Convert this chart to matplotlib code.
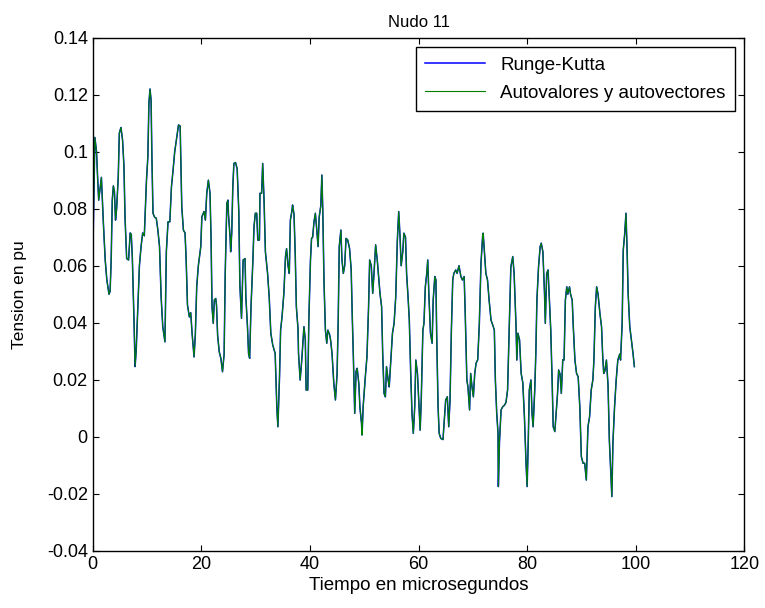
import numpy as np
import matplotlib
matplotlib.use('Agg')
import matplotlib.pyplot as plt

plt.rcParams['font.family'] = ['Liberation Sans', 'DejaVu Sans']

# tiempo (microsegundos) y tension (pu)
t = [0.0, 0.05, 0.4, 0.7, 0.9, 1.1, 1.6, 1.95, 2.3, 2.6, 3.0, 3.2, 3.4, 3.6, 3.8, 4.0,
     4.2, 4.4, 4.7, 4.9, 5.2, 5.5, 5.75, 5.95, 6.25, 6.6, 6.9, 7.1, 7.3, 7.6, 7.8, 8.0,
     8.2, 8.4, 8.6, 8.9, 9.2, 9.5, 9.7, 9.9, 10.15, 10.35, 10.55, 10.75, 10.9, 11.1, 11.4,
     11.7, 12.0, 12.3, 12.6, 12.9, 13.3, 13.56, 13.87, 14.2, 14.5, 14.8, 15.1, 15.4, 15.8,
     16.1, 16.2, 16.4, 16.7, 17.0, 17.2, 17.45, 17.8, 18.05, 18.3, 18.66, 18.9, 19.15,
     19.45, 19.9, 20.1, 20.5, 20.75, 21.0, 21.3, 21.6, 21.8, 21.97, 22.2, 22.4, 22.65,
     22.8, 23.0, 23.3, 23.6, 23.9, 24.2, 24.4, 24.7, 24.9, 25.0, 25.3, 25.4, 25.6, 25.8,
     26.0, 26.3, 26.6, 26.9, 27.1, 27.4, 27.7, 28.05, 28.2, 28.5, 28.7, 28.9, 29.15, 29.5,
     29.7, 29.95, 30.2, 30.4, 30.7, 30.8, 31.1, 31.3, 31.55, 31.8, 32.2, 32.5, 32.8, 33.15,
     33.6, 33.9, 34.1, 34.4, 34.6, 34.86, 35.2, 35.5, 35.7, 35.97, 36.2, 36.4, 36.7, 36.8,
     37.07, 37.3, 37.5, 37.8, 37.9, 38.2, 38.5, 38.9, 39.15, 39.3, 39.6, 39.8, 40.1, 40.3,
     40.5, 40.75, 41.0, 41.2, 41.5, 41.7, 42.0, 42.2, 42.36, 42.6, 42.85, 43.1, 43.3, 43.6,
     43.8, 44.07, 44.4, 44.7, 45.0, 45.2, 45.4, 45.7, 45.9, 46.15, 46.4, 46.65, 46.96, 47.3,
     47.6, 47.8, 48.0, 48.25, 48.5, 48.7, 49.0, 49.2, 49.5, 49.6, 49.8, 50.2, 50.5, 50.8,
     51.0, 51.3, 51.56, 51.8, 52.1, 52.4, 52.6, 52.9, 53.2, 53.4, 53.65, 53.9, 54.1, 54.4,
     54.6, 54.9, 55.2, 55.5, 55.8, 56.1, 56.35, 56.6, 56.8, 57.1, 57.3, 57.6, 57.8, 58.07,
     58.3, 58.56, 58.8, 59.04, 59.3, 59.5, 59.8, 60.04, 60.3, 60.5, 60.8, 61.0, 61.25, 61.5,
     61.7, 61.9, 62.2, 62.5, 62.7, 63.0, 63.2, 63.35, 63.6, 63.8, 64.1, 64.5, 64.7, 65.0,
     65.3, 65.56, 65.8, 66.05, 66.3, 66.5, 66.85, 67.1, 67.45, 67.8, 68.07, 68.4, 68.6,
     68.9, 69.1, 69.4, 69.6, 69.85, 70.1, 70.35, 70.6, 70.9, 71.2, 71.5, 71.8, 71.9, 72.2,
     72.4, 72.7, 73.0, 73.35, 73.7, 73.96, 74.15, 74.4, 74.64, 74.7, 74.9, 75.2, 75.5, 75.8,
     76.1, 76.4, 76.7, 77.0, 77.35, 77.6, 77.96, 78.1, 78.3, 78.6, 78.9, 79.2, 79.5, 79.8,
     80.0, 80.2, 80.4, 80.7, 80.9, 81.1, 81.4, 81.6, 81.8, 82.1, 82.4, 82.6, 82.9, 83.2,
     83.35, 83.6, 83.85, 84.1, 84.35, 84.6, 84.8, 85.1, 85.3, 85.6, 85.8, 86.06, 86.3,
     86.56, 86.8, 87.04, 87.3, 87.5, 87.8, 88.0, 88.3, 88.5, 88.8, 89.1, 89.4, 89.7, 89.98,
     90.3, 90.6, 90.9, 91.2, 91.5, 91.8, 92.1, 92.3, 92.56, 92.8, 93.06, 93.4, 93.7, 93.9,
     94.1, 94.3, 94.6, 94.9, 95.14, 95.4, 95.6, 95.8, 96.1, 96.4, 96.7, 97.05, 97.2, 97.5,
     97.7, 97.96, 98.2, 98.4, 98.6, 98.9, 99.2, 99.5, 99.75]

v = [0.0, 0.067, 0.105, 0.1, 0.091, 0.083, 0.091, 0.0755, 0.062, 0.055, 0.05, 0.051, 0.062,
     0.083, 0.088, 0.086, 0.076, 0.08, 0.091, 0.1065, 0.1085, 0.104, 0.095, 0.077, 0.0625,
     0.062, 0.0715, 0.071, 0.0625, 0.041, 0.0246, 0.03, 0.04, 0.049, 0.06, 0.0667, 0.0715,
     0.0705, 0.0807, 0.09, 0.098, 0.117, 0.122, 0.118, 0.098, 0.0784, 0.077, 0.0767, 0.0725,
     0.0667, 0.049, 0.0386, 0.0333, 0.065, 0.0754, 0.0754, 0.0877, 0.0936, 0.1, 0.104,
     0.1094, 0.109, 0.099, 0.0807, 0.0725, 0.0715, 0.0625, 0.0462, 0.042, 0.0435, 0.0363,
     0.028, 0.036, 0.0526, 0.06, 0.0667, 0.0772, 0.079, 0.076, 0.0854, 0.09, 0.0854, 0.069,
     0.0456, 0.0398, 0.048, 0.0485, 0.046, 0.0356, 0.0298, 0.0275, 0.0228, 0.029, 0.0573,
     0.0819, 0.083, 0.078, 0.07, 0.0649, 0.0714, 0.0877, 0.0959, 0.0962, 0.094, 0.079,
     0.0532, 0.0415, 0.062, 0.0625, 0.049, 0.0386, 0.0292, 0.0275, 0.0456, 0.062, 0.0737,
     0.0784, 0.0784, 0.069, 0.069, 0.0854, 0.0854, 0.0959, 0.083, 0.0649, 0.0573, 0.049,
     0.0363, 0.0322, 0.0292, 0.0105, 0.0035, 0.021, 0.0374, 0.042, 0.0503, 0.0632, 0.066,
     0.06, 0.0573, 0.076, 0.0795, 0.0813, 0.078, 0.0636, 0.0456, 0.038, 0.0292, 0.0199,
     0.027, 0.0386, 0.034, 0.0164, 0.0164, 0.041, 0.062, 0.0696, 0.07, 0.0754, 0.0784,
     0.074, 0.0667, 0.077, 0.081, 0.0918, 0.08, 0.0538, 0.0374, 0.0328, 0.0374, 0.036,
     0.034, 0.0292, 0.0187, 0.0129, 0.022, 0.04, 0.0667, 0.0725, 0.062, 0.0573, 0.06,
     0.0696, 0.069, 0.066, 0.0585, 0.042, 0.028, 0.0082, 0.023, 0.024, 0.0187, 0.0105,
     0.0047, 0.0006, 0.0105, 0.021, 0.028, 0.0456, 0.062, 0.06, 0.0503, 0.0573, 0.0673,
     0.062, 0.0573, 0.0503, 0.0456, 0.0292, 0.0152, 0.014, 0.0246, 0.02, 0.0175, 0.0269,
     0.0363, 0.0398, 0.049, 0.069, 0.079, 0.07, 0.06, 0.0649, 0.0714, 0.07, 0.0573, 0.049,
     0.041, 0.0222, 0.008, 0.0012, 0.0105, 0.0269, 0.0222, 0.0129, 0.0023, 0.0129, 0.0374,
     0.0398, 0.0526, 0.057, 0.062, 0.05, 0.0363, 0.0328, 0.048, 0.0562, 0.055, 0.035,
     0.0105, 0.0012, -0.0006, -0.001, 0.0047, 0.0129, 0.014, 0.0035, 0.0129, 0.0374, 0.055,
     0.0573, 0.0585, 0.0573, 0.06, 0.0562, 0.055, 0.0562, 0.0433, 0.0199, 0.0175, 0.0094,
     0.0222, 0.0175, 0.014, 0.0222, 0.0258, 0.027, 0.0398, 0.0608, 0.0702, 0.0714, 0.0631,
     0.0573, 0.055, 0.0479, 0.0409, 0.039, 0.0374, 0.0199, 0.0082, 0.0012, -0.0175, -0.002,
     0.0094, 0.0105, 0.011, 0.012, 0.0164, 0.0386, 0.0596, 0.0632, 0.0573, 0.0386, 0.0269,
     0.0363, 0.034, 0.0222, 0.019, 0.007, -0.0094, -0.0175, -0.002, 0.0164, 0.0199, 0.0082,
     0.0035, 0.0164, 0.0292, 0.048, 0.0596, 0.0667, 0.0679, 0.0649, 0.0503, 0.0398, 0.0573,
     0.0585, 0.048, 0.0374, 0.0199, 0.0035, 0.0018, 0.007, 0.0152, 0.0234, 0.022, 0.0152,
     0.027, 0.0269, 0.0479, 0.0526, 0.05, 0.0526, 0.05, 0.0479, 0.0386, 0.0269, 0.0222,
     0.021, 0.0105, -0.007, -0.0093, -0.0093, -0.0152, 0.0035, 0.007, 0.0164, 0.0199,
     0.0269, 0.0456, 0.0526, 0.05, 0.0433, 0.0386, 0.029, 0.0222, 0.023, 0.0269, 0.018,
     -0.0012, -0.0129, -0.021, -0.002, 0.0105, 0.0199, 0.0269, 0.029, 0.0269, 0.0398,
     0.0655, 0.071, 0.0784, 0.066, 0.0503, 0.0386, 0.0339, 0.0292, 0.0246]

xticks = [0, 20, 40, 60, 80, 100, 120]
yticks = [-0.04, -0.02, 0, 0.02, 0.04, 0.06, 0.08, 0.1, 0.12, 0.14]
yticklabels = ['-0.04', '-0.02', '0', '0.02', '0.04', '0.06', '0.08', '0.1', '0.12', '0.14']

fig = plt.figure(figsize=(7.65, 6.08), dpi=100)
ax = fig.add_axes([0.1212, 0.0942, 0.8518, 0.8438])

ax.plot(t, v, color='#0000ff', lw=1.1, label='Runge-Kutta')
ax.plot(t, v, color='#008000', lw=0.8, label='Autovalores y autovectores')

ax.set_xlim(0, 120)
ax.set_ylim(-0.04, 0.14)
ax.set_xticks(xticks)
ax.set_yticks(yticks)
ax.set_yticklabels(yticklabels)
ax.tick_params(direction='in', top=True, right=True, labelsize=13, length=4)
for s in ax.spines.values():
    s.set_linewidth(1.0)

ax.set_title('Nudo 11', fontsize=12, pad=8)
ax.set_xlabel('Tiempo en microsegundos', fontsize=13.5, labelpad=3)
ax.set_ylabel('Tension en pu', fontsize=12.5, labelpad=14)

leg = ax.legend(loc='upper right', fontsize=13.5, fancybox=False, framealpha=1,
                edgecolor='black', borderaxespad=0.5, handlelength=3.2,
                labelspacing=0.6, borderpad=0.5)
leg.get_frame().set_linewidth(1.0)

fig.savefig('out.png', dpi=100)
